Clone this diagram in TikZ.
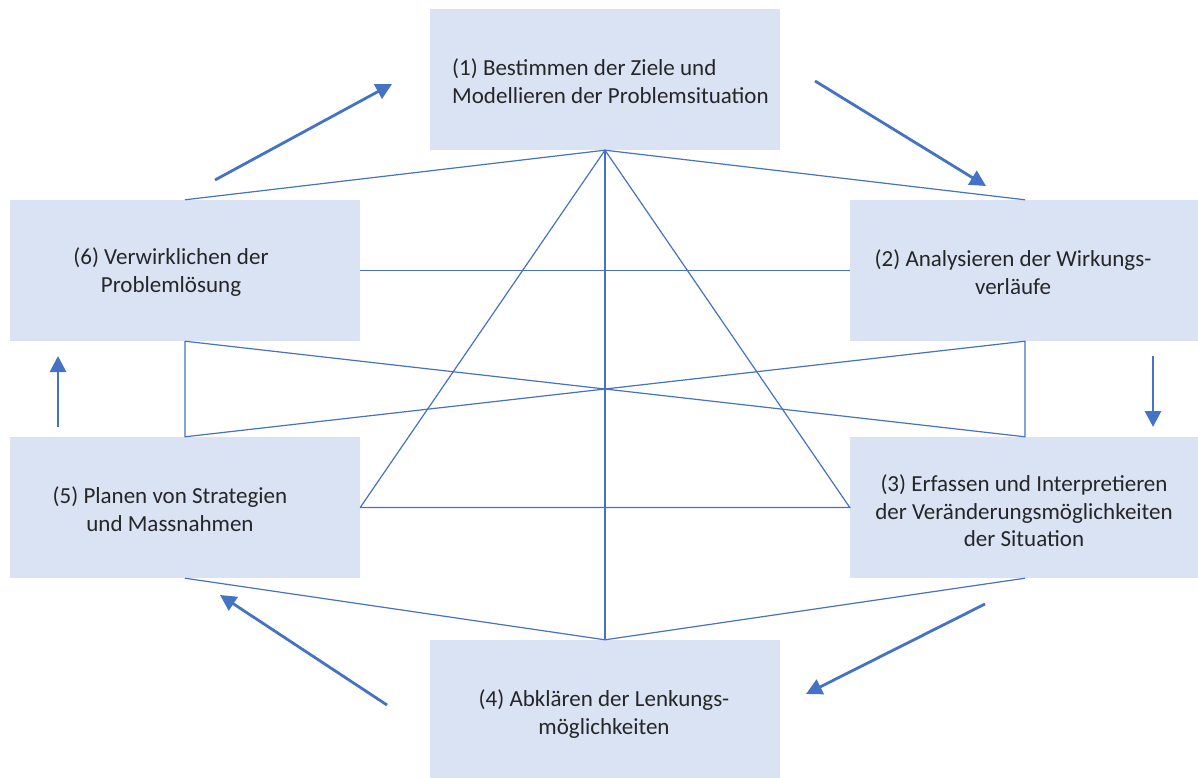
\documentclass[tikz,border=0pt]{standalone}
\usepackage{fontspec}
\setmainfont{Carlito}
\usetikzlibrary{arrows.meta}
\definecolor{boxfill}{HTML}{DAE3F3}
\definecolor{linecol}{HTML}{4472C4}
\definecolor{txt}{HTML}{262626}
\begin{document}
\begin{tikzpicture}[x=1pt,y=-1pt,
  box/.style={rectangle, fill=boxfill, draw=none, minimum width=350pt, minimum height=141pt, inner sep=0pt},
  lbl/.style={text=txt, font=\fontsize{23}{27.5}\selectfont, inner sep=0pt},
  thin/.style={draw=linecol, line width=1.2pt},
  flow/.style={draw=linecol, line width=2.8pt, -{Triangle[length=16pt,width=16pt]}, shorten >=0pt}
]
\useasboundingbox (0,0) rectangle (1198,778);
% boxes
\node[box] (b1) at (605,79.5) {};
\node[box] (b2) at (1025,270.5) {};
\node[box] (b3) at (1025,507.5) {};
\node[box, minimum height=140pt] (b4) at (605,710) {};
\node[box] (b5) at (185,507.5) {};
\node[box] (b6) at (185,270.5) {};
% texts
\node[lbl, align=left, anchor=west] (t1) at (452,81) {(1) Bestimmen der Ziele und\\Modellieren der Problemsituation};
\node[lbl, align=center] (t2) at (1013,272) {(2) Analysieren der Wirkungs-\\verläufe};
\node[lbl, align=center] (t3) at (1024,511) {(3) Erfassen und Interpretieren\\der Veränderungsmöglichkeiten\\der Situation};
\node[lbl, align=center] (t4) at (604,714) {(4) Abklären der Lenkungs-\\möglichkeiten};
\node[lbl, align=center] (t5) at (170,509) {(5) Planen von Strategien\\und Massnahmen};
\node[lbl, align=center] (t6) at (171,272) {(6) Verwirklichen der\\Problemlösung};
% thin structure lines
\draw[thin] (b6.north) -- (b1.south) -- (b2.north);
\draw[thin] (b5.east) -- (b1.south) -- (b3.west) -- (b5.east);
\draw[thin] (b1.south) -- (b4.north);
\draw[thin] (b6.east) -- (b2.west);
\draw[thin] (b6.south) -- (b5.north) -- (b2.south) -- (b3.north) -- (b6.south);
\draw[thin] (b5.south) -- (b4.north) -- (b3.south);
% arrow end points
\coordinate (a1s) at (215,180); \coordinate (a1e) at (392,84);
\coordinate (a2s) at (815,81); \coordinate (a2e) at (986,186);
\coordinate (a3s) at (1153,356); \coordinate (a3e) at (1153,427);
\coordinate (a4s) at (985,604); \coordinate (a4e) at (806,694);
\coordinate (a5s) at (387,705); \coordinate (a5e) at (220,595);
\coordinate (a6s) at (58,427); \coordinate (a6e) at (58,356);
\draw[flow] (a1s) -- (a1e);
\draw[flow] (a2s) -- (a2e);
\draw[flow] (a3s) -- (a3e);
\draw[flow] (a4s) -- (a4e);
\draw[flow] (a5s) -- (a5e);
\draw[flow] (a6s) -- (a6e);
\end{tikzpicture}
\end{document}
